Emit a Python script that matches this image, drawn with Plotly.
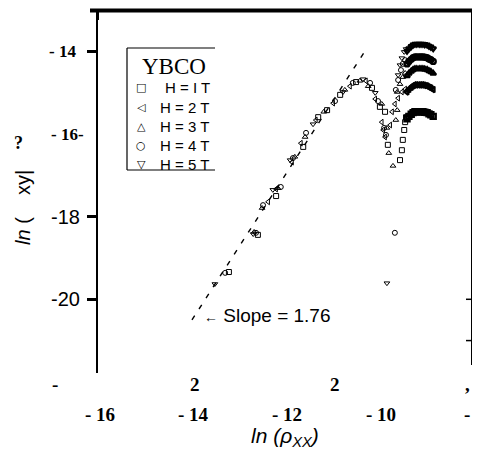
import plotly.graph_objects as go

# ---------------- data ----------------
arc_x = [-9.39, -9.35, -9.30, -9.26, -9.22, -9.18, -9.13, -9.09, -9.05, -9.01, -8.96, -8.92, -8.88, -8.83]

x_1T = [-13.20, -12.58, -12.19, -11.61, -11.29, -11.10, -10.82, -10.48, -10.14, -9.97, -9.86, -9.80,
        -9.54, -9.50, -9.48, -9.45, -9.43, -9.41] + arc_x
y_1T = [-19.34, -18.44, -17.50, -16.31, -15.59, -15.42, -15.05, -14.74, -14.88, -15.34, -15.46, -16.26,
        -16.63, -16.39, -16.14, -15.90, -15.71, -15.59,
        -15.63, -15.57, -15.52, -15.48, -15.46, -15.46, -15.46, -15.46, -15.46, -15.47, -15.48, -15.51, -15.53, -15.57]

x_2T = [-12.36, -12.19, -11.85, -11.66, -11.34, -10.97, -10.61, -10.27, -10.07, -9.93, -9.90, -9.86,
        -9.75, -9.71, -9.65, -9.58, -9.50, -9.43] + arc_x
y_2T = [-17.64, -17.33, -16.68, -16.22, -15.66, -15.25, -14.84, -14.71, -15.15, -15.71, -15.90, -16.07,
        -15.78, -15.46, -15.27, -15.13, -14.98, -14.91,
        -14.98, -14.92, -14.87, -14.83, -14.81, -14.81, -14.81, -14.81, -14.81, -14.82, -14.83, -14.86, -14.88, -14.92]

x_3T = [-12.66, -12.49, -12.15, -11.79, -11.57, -11.17, -10.72, -10.40, -10.22, -9.93, -9.82, -9.78,
        -9.69, -9.63, -9.60, -9.60, -9.54, -9.48, -9.43] + arc_x
y_3T = [-18.37, -17.79, -17.31, -16.55, -16.07, -15.46, -14.93, -14.71, -14.84, -15.27, -15.85, -16.46,
        -16.77, -15.66, -15.42, -14.98, -14.79, -14.62, -14.52,
        -14.59, -14.53, -14.48, -14.44, -14.42, -14.42, -14.42, -14.42, -14.42, -14.43, -14.44, -14.47, -14.49, -14.53]

x_4T = [-13.28, -12.62, -12.47, -12.09, -11.83, -11.55, -10.93, -10.55, -10.18, -10.01, -9.88, -9.84,
        -9.65, -9.63, -9.58, -9.52, -9.48, -9.43] + arc_x
y_4T = [-19.36, -18.39, -17.72, -17.28, -16.58, -15.97, -15.20, -14.76, -14.76, -15.20, -15.85, -16.02,
        -18.39, -14.93, -14.69, -14.45, -14.30, -14.21,
        -14.30, -14.24, -14.19, -14.15, -14.13, -14.13, -14.13, -14.13, -14.13, -14.14, -14.15, -14.18, -14.20, -14.24]

x_5T = [-13.50, -12.68, -12.26, -11.89, -11.40, -10.76, -10.33, -10.07, -9.82,
        -9.58, -9.54, -9.50, -9.45, -9.41] + arc_x
y_5T = [-19.63, -18.42, -17.35, -16.63, -15.76, -14.98, -14.67, -15.00, -19.61,
        -14.57, -14.33, -14.16, -14.01, -13.94,
        -13.99, -13.93, -13.88, -13.84, -13.82, -13.82, -13.82, -13.82, -13.82, -13.83, -13.84, -13.87, -13.89, -13.93]

fit_x = [-13.99, -10.25]
fit_y = [-20.50, -13.92]

legend_title = "YBCO"
series_names = ["H = I T", "H = 2 T", "H = 3 T", "H = 4 T", "H = 5 T"]
series_symbols = ["square-open", "triangle-left-open", "triangle-up-open", "circle-open", "triangle-down-open"]
legend_glyphs = ["□", "◁", "△", "○", "▽"]

x_tick_vals = [-16, -14, -12, -10, -8]
x_tick_text = ["- 16", "- 14", "- 12", "- 10", "- 8"]
x_row2_text = ["-", "2", "2", ","]
y_tick_vals = [-14, -16, -18, -20]
y_tick_text = ["<b>- 14</b>", "<b>- 16-</b>", "-18", "-20"]

# ---------------- figure ----------------
SERIF = "Liberation Serif"
SANS = "Liberation Sans"

fig = go.Figure()

fig.add_trace(go.Scatter(x=fit_x, y=fit_y, mode="lines", showlegend=False,
                         line=dict(color="black", width=1.4, dash="5px,8px"), hoverinfo="skip"))

for xs, ys, nm, sym in zip([x_1T, x_2T, x_3T, x_4T, x_5T], [y_1T, y_2T, y_3T, y_4T, y_5T],
                           series_names, series_symbols):
    # dense high-field end points overlap into heavy strokes
    widths = [2.4 if xv > -9.40 else 1.0 for xv in xs]
    fig.add_trace(go.Scatter(x=xs, y=ys, mode="markers", name=nm, showlegend=False,
                             marker=dict(symbol=sym, size=5, color="black",
                                         line=dict(color="black", width=widths))))

# plot area occupies window pixels x 98..472, y 11..373
PH = 362.0
def py2paper(py):
    return (373.0 - py) / PH
def px2paper(px):
    return (px - 98.0) / 374.0

ann = []
# y tick labels
for v, t in zip(y_tick_vals, y_tick_text):
    if "<b>" in t:
        f = dict(family=SERIF, size=17, color="black")
        xr = px2paper(78) if "14" in t else px2paper(86)
    else:
        f = dict(family=SANS, size=20, color="black")
        xr = px2paper(82)
    ann.append(dict(x=xr, y=v, xref="paper", yref="y", text=t, showarrow=False,
                    xanchor="right", yanchor="middle", font=f))
# bottom tick labels (two rows)
for v, t in zip(x_tick_vals, x_tick_text):
    ann.append(dict(x=v, y=py2paper(414), xref="x", yref="paper", text="<b>" + t + "</b>", showarrow=False,
                    xanchor="center", yanchor="middle", xshift=2,
                    font=dict(family=SERIF, size=19, color="black")))
for px, t in zip([55, 195, 335, 467], x_row2_text):
    ann.append(dict(x=px2paper(px), y=py2paper(384), xref="paper", yref="paper", text="<b>" + t + "</b>",
                    showarrow=False, xanchor="center", yanchor="middle",
                    font=dict(family=SERIF, size=19, color="black")))
# axis titles
ann.append(dict(x=px2paper(285), y=py2paper(437), xref="paper", yref="paper",
                text="<i>ln (ρ<sub>XX</sub>)</i>", showarrow=False,
                xanchor="center", yanchor="middle", font=dict(family=SANS, size=21, color="black")))
ann.append(dict(x=px2paper(23), y=py2paper(208), xref="paper", yref="paper",
                text="<i>ln</i> (    xy|", showarrow=False, textangle=-90,
                xanchor="center", yanchor="middle", font=dict(family=SANS, size=20, color="black")))
ann.append(dict(x=px2paper(18), y=py2paper(143), xref="paper", yref="paper",
                text="<b>?</b>", showarrow=False,
                xanchor="center", yanchor="middle", font=dict(family=SERIF, size=18, color="black")))
# slope label
ann.append(dict(x=-13.78, y=-20.40, xref="x", yref="y",
                text="<span style='font-size:14px'>←</span> Slope = 1.76", showarrow=False,
                xanchor="left", yanchor="middle", font=dict(family=SANS, size=19, color="black")))
# legend (box open on the right, as in the original)
ann.append(dict(x=px2paper(174), y=py2paper(66), xref="paper", yref="paper", text=legend_title,
                showarrow=False, xanchor="center", yanchor="middle",
                font=dict(family=SERIF, size=23, color="black")))
row_py = [88, 107, 126, 145, 164]
for i, (nm, g) in enumerate(zip(series_names, legend_glyphs)):
    ann.append(dict(x=px2paper(141), y=py2paper(row_py[i]), xref="paper", yref="paper", text=g,
                    showarrow=False, xanchor="center", yanchor="middle",
                    font=dict(family="DejaVu Sans", size=11, color="black")))
    ann.append(dict(x=px2paper(163 if i == 0 else 158), y=py2paper(row_py[i]), xref="paper", yref="paper",
                    text=nm, showarrow=False, xanchor="left", yanchor="middle",
                    font=dict(family=SANS, size=15, color="black")))

shapes = [
    # thick top frame line
    dict(type="line", xref="paper", yref="paper", x0=px2paper(90), x1=px2paper(473),
         y0=py2paper(10.5), y1=py2paper(10.5), line=dict(color="black", width=4), layer="above"),
    # left axis continued up to the top frame line
    dict(type="line", xref="paper", yref="paper", x0=0.0, x1=0.0, y0=py2paper(20), y1=py2paper(10),
         line=dict(color="black", width=2)),
    # right frame line
    dict(type="line", xref="paper", yref="paper", x0=1.0, x1=1.0, y0=py2paper(365), y1=py2paper(10),
         line=dict(color="black", width=2)),
    # right-side small ticks
    dict(type="line", xref="paper", yref="y", x0=px2paper(466), x1=1.0, y0=-20, y1=-20,
         line=dict(color="black", width=1.5)),
    dict(type="line", xref="paper", yref="y", x0=px2paper(466), x1=1.0, y0=-21, y1=-21,
         line=dict(color="black", width=1.5)),
    # legend box (open on the right)
    dict(type="line", xref="paper", yref="paper", x0=px2paper(127), x1=px2paper(127),
         y0=py2paper(170), y1=py2paper(48), line=dict(color="black", width=1.2)),
    dict(type="line", xref="paper", yref="paper", x0=px2paper(127), x1=px2paper(215),
         y0=py2paper(48), y1=py2paper(48), line=dict(color="black", width=1.2)),
    dict(type="line", xref="paper", yref="paper", x0=px2paper(127), x1=px2paper(215),
         y0=py2paper(170), y1=py2paper(170), line=dict(color="black", width=1.2)),
]

# the page body has an 8px margin, so the figure is sized/margined to land on the window grid
fig.update_layout(
    width=472, height=447,
    margin=dict(l=90, r=8, t=3, b=82),
    paper_bgcolor="white", plot_bgcolor="white",
    showlegend=False,
    xaxis=dict(range=[-16, -8], showgrid=False, zeroline=False, showline=False,
               showticklabels=False, ticks=""),
    yaxis=dict(range=[-21.785, -13.019], showgrid=False, zeroline=False, showline=True,
               linecolor="black", linewidth=2, mirror=False,
               tickvals=[-14, -18, -20], ticks="outside", ticklen=9, tickwidth=2.5,
               tickcolor="black", showticklabels=False),
    annotations=ann, shapes=shapes,
)

fig.write_html("out.html")
